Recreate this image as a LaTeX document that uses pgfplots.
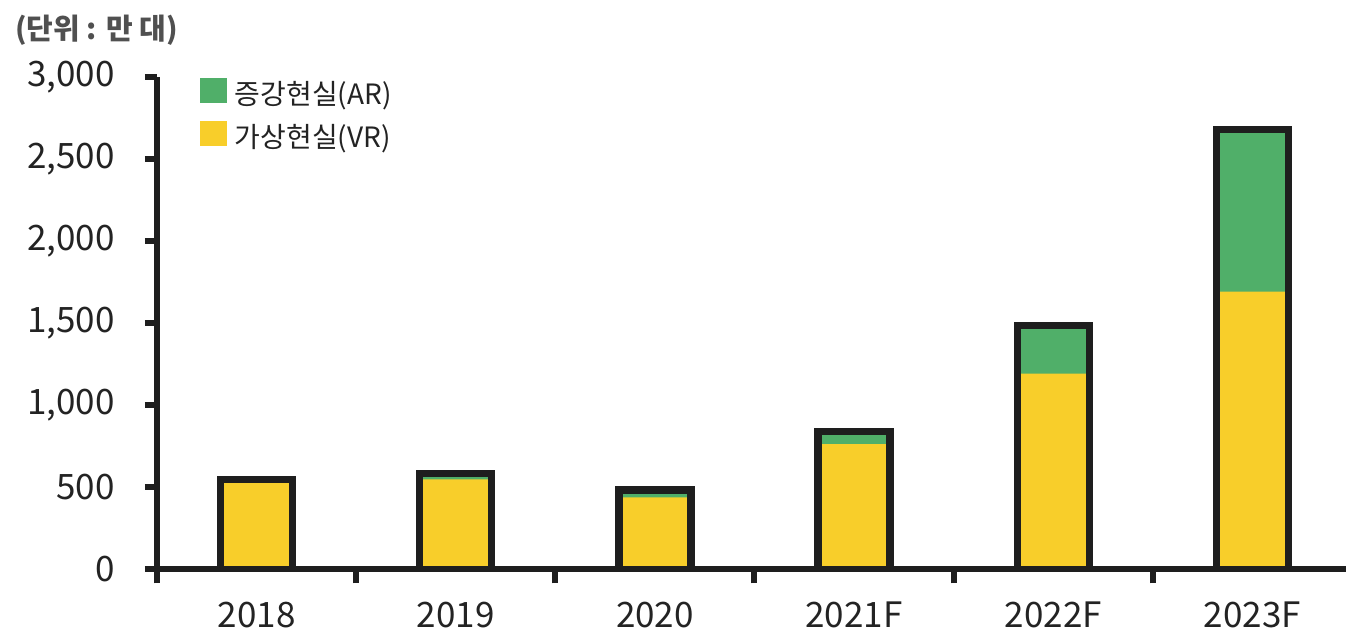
\documentclass[border=0pt]{standalone}
\usepackage{pgfplots}
\pgfplotsset{compat=1.18}
\usepackage{fontspec}
\setmainfont{Noto Sans CJK KR}
\definecolor{arcol}{RGB}{80,175,105}
\definecolor{vrcol}{RGB}{248,206,42}
\definecolor{axcol}{RGB}{30,30,30}
\definecolor{txtcol}{RGB}{35,35,35}
\definecolor{unitcol}{RGB}{80,80,80}
\begin{document}
\begin{tikzpicture}
\path[use as bounding box] (-78.5pt,-31.25pt) rectangle (594.5pt,284.75pt);
\begin{axis}[
  at={(0,0)}, anchor=south west,
  scale only axis, width=594.5pt, height=246pt,
  xmin=-0.5, xmax=5.47, ymin=0, ymax=3000,
  axis x line*=bottom, axis y line*=left,
  axis line style={line width=3pt, color=axcol},
  ybar, bar width=36pt, bar shift=0pt,
  xtick={0,1,2,3,4,5},
  xticklabels={2018,2019,2020,2021F,2022F,2023F},
  major x tick style={draw=none},
  minor xtick={-0.5,0.5,1.5,2.5,3.5,4.5},
  minor tick length=7pt,
  minor x tick style={line width=3pt, color=axcol},
  ytick={0,500,1000,1500,2000,2500,3000},
  ytick style={line width=3pt, color=axcol},
  tick align=outside,
  major tick length=6pt,
  /pgf/number format/.cd, 1000 sep={,}, assume math mode=true, /pgfplots/.cd,
  tick label style={font=\fontsize{17.5}{20}\selectfont, color=txtcol},
  yticklabel style={inner sep=0pt, xshift=-15pt},
  xticklabel style={inner sep=0pt, yshift=-10pt},
  legend style={at={(0.036,1)}, anchor=north west, draw=none, fill=none,
    inner sep=0pt, outer sep=0pt, font=\fontsize{14}{16}\selectfont,
    text=txtcol, row sep=5.5pt, column sep=4pt,
    nodes={inner sep=0pt, text height=10pt, text depth=3pt}},
  legend cell align=left,
]
\addplot[fill=arcol, draw=none,
  legend image code/.code={\fill[arcol] (0pt,-2.75pt) rectangle (13.5pt,9.75pt);}]
  coordinates {(0,550) (1,585) (2,485) (3,840) (4,1490) (5,2685)};
\addlegendentry{증강현실(AR)}
\addplot[fill=vrcol, draw=none,
  legend image code/.code={\fill[vrcol] (0pt,-2.75pt) rectangle (13.5pt,9.75pt);}]
  coordinates {(0,540) (1,550) (2,440) (3,765) (4,1195) (5,1695)};
\addlegendentry{가상현실(VR)}
\addplot[fill=none, draw=axcol, line width=3.6pt, line join=miter, forget plot]
  coordinates {(0,550) (1,585) (2,485) (3,840) (4,1490) (5,2685)};
\end{axis}
\node[anchor=north west, inner sep=0pt, text=unitcol, font=\fontsize{14.5}{16}\selectfont\bfseries]
  at (-71pt,277.5pt) {(단위 : 만 대)};
\end{tikzpicture}
\end{document}
